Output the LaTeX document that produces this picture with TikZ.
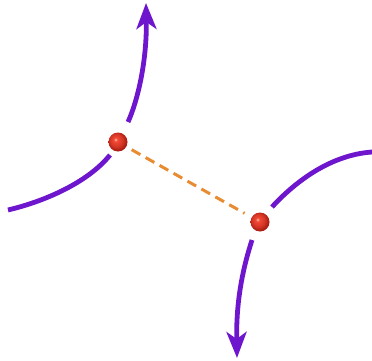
\documentclass[tikz,border=0pt]{standalone}
\usetikzlibrary{arrows.meta}
\definecolor{bondpurple}{RGB}{110,22,205}
\definecolor{bondorange}{RGB}{232,140,50}
\definecolor{atomred}{RGB}{242,72,52}
\definecolor{atomlight}{RGB}{255,200,180}
\definecolor{atomdark}{RGB}{165,25,15}
\pgfdeclareradialshading{atomball}{\pgfpoint{-7bp}{7bp}}{%
  color(0bp)=(atomlight); color(5bp)=(atomred); color(16bp)=(atomred!65!atomdark);
  color(27bp)=(atomdark); color(50bp)=(atomdark)}
\tikzset{
  flow/.style={draw=bondpurple, line width=4.8pt},
  flowarrow/.style={flow, -{Stealth[length=26pt,width=20pt,inset=7pt]}},
  atom/.style={circle, minimum size=19pt, inner sep=0pt, shading=atomball},
  hbond/.style={draw=bondorange, line width=3pt, dash pattern=on 10pt off 6pt, shorten <=6pt, shorten >=8pt}
}
\begin{document}
\begin{tikzpicture}[x=1pt,y=-1pt]
\useasboundingbox (0,0) rectangle (372,361);
\node[atom] (a1) at (118,142) {};
\node[atom] (a2) at (260,222) {};
\coordinate (l0) at (8,210);
\coordinate (l1) at (110,155);
\coordinate (u0) at (128,122);
\coordinate (u1) at (146,3);
\coordinate (r0) at (272,207);
\coordinate (r1) at (372,152);
\coordinate (d0) at (252,240);
\coordinate (d1) at (237,358);
\draw[flow] (l0) .. controls (50,200) and (90,180) .. (l1);
\draw[flowarrow] (u0) .. controls (138,100) and (147,60) .. (u1);
\draw[flow] (r0) .. controls (295,182) and (330,155) .. (r1);
\draw[flowarrow] (d0) .. controls (243,268) and (236,300) .. (d1);
\draw[hbond] (a1) -- (a2);
\end{tikzpicture}
\end{document}
